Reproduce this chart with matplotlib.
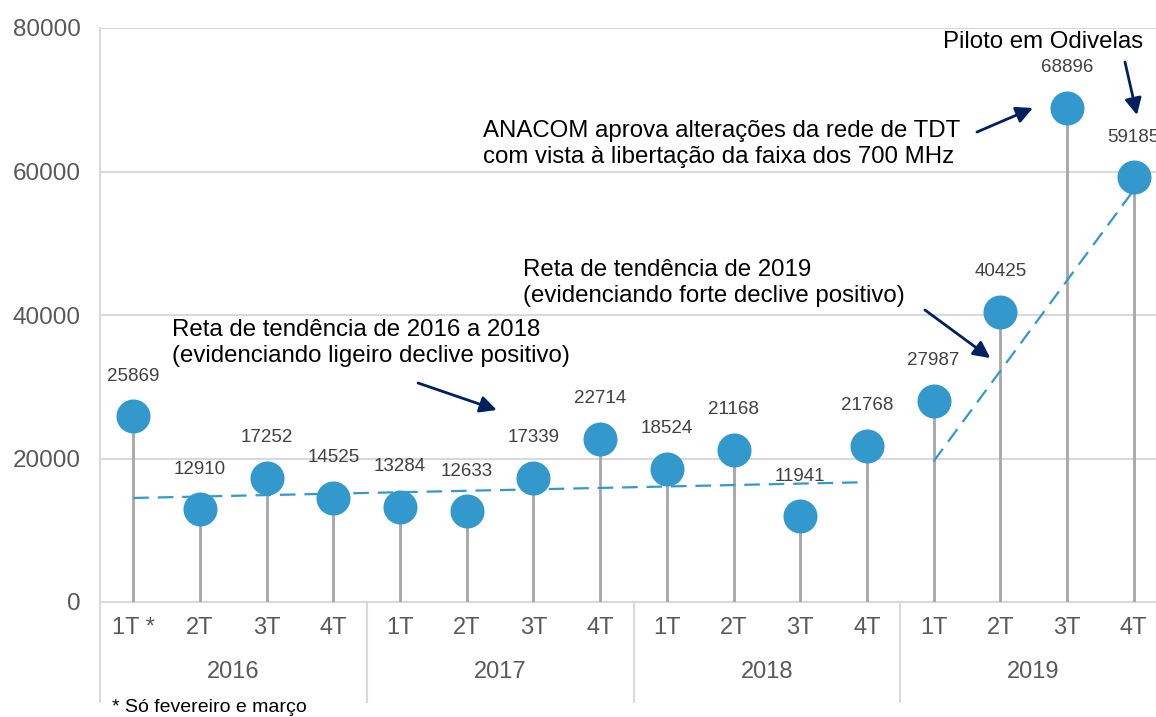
import matplotlib
matplotlib.use("Agg")
import matplotlib.pyplot as plt
import matplotlib.transforms as mtransforms
import numpy as np

plt.rcParams['font.family'] = ['Liberation Sans', 'DejaVu Sans']

quarters = ["1T *", "2T", "3T", "4T", "1T", "2T", "3T", "4T",
            "1T", "2T", "3T", "4T", "1T", "2T", "3T", "4T"]
years = ["2016", "2017", "2018", "2019"]
values = [25869, 12910, 17252, 14525, 13284, 12633, 17339, 22714,
          18524, 21168, 11941, 21768, 27987, 40425, 68896, 59185]

# trend lines (start/end index, start/end value)
trend_2016_2018 = ([0, 11], [14500, 16700])
trend_2019 = ([12, 15], [19600, 57400])

BLUE = "#3399CC"
STEM = "#A6A6A6"
GRID = "#D9D9D9"
NAVY = "#002060"

fig = plt.figure(figsize=(11.56, 7.17), dpi=100)
ax = fig.add_axes([100 / 1156, 115 / 717, 1067 / 1156, 574 / 717])

x = np.arange(len(values)) + 0.5
ax.set_xlim(0, len(values))
ax.set_ylim(0, 80000)

# grid and spines
ax.set_yticks(np.arange(0, 80001, 20000))
ax.yaxis.grid(True, color=GRID, lw=1.5)
ax.set_axisbelow(True)
for s in ["top", "right", "bottom"]:
    ax.spines[s].set_visible(False)
ax.spines["left"].set_color(GRID)
ax.spines["left"].set_linewidth(1.5)
ax.tick_params(axis="y", length=0, pad=14, labelsize=17.5, labelcolor="#595959")
ax.set_xticks([])

# stems and markers
ax.vlines(x, 0, values, color=STEM, lw=2, zorder=2)
dash = (0, (7, 4))
tx = np.array(trend_2016_2018[0]) + 0.5
ax.plot(tx, trend_2016_2018[1], ls=dash, color=BLUE, lw=1.6, zorder=3)
tx = np.array(trend_2019[0]) + 0.5
ax.plot(tx, trend_2019[1], ls=dash, color=BLUE, lw=1.6, zorder=3)
ax.plot(x, values, "o", ms=24.5, color=BLUE, mec="none", zorder=4)

for xi, v in zip(x, values):
    ax.annotate(str(v), (xi, v), xytext=(0, 29), textcoords="offset points",
                ha="center", va="center", fontsize=13.5, color="#404040",
                zorder=5, annotation_clip=False)

# category axis
trans = mtransforms.blended_transform_factory(ax.transData, ax.transAxes)
ax.plot([0, len(values)], [0, 0], transform=trans, color=GRID, lw=1.5,
        clip_on=False, zorder=1)
for b in range(0, len(values) + 1, 4):
    ax.plot([b, b], [0, -100 / 574], transform=trans, color=GRID, lw=1.5,
            clip_on=False)
for xi, q in zip(x, quarters):
    ax.text(xi, -26 / 574, q, transform=trans, ha="center", va="center",
            fontsize=17, color="#595959")
for i, yr in enumerate(years):
    ax.text(4 * i + 2, -70 / 574, yr, transform=trans, ha="center",
            va="center", fontsize=17, color="#595959")

# annotations
txt_kw = dict(fontsize=17.3, color="black", ha="left", va="center",
              linespacing=1.2, zorder=6)
arrow_kw = dict(arrowstyle="-|>", color=NAVY, lw=2, mutation_scale=25,
                shrinkA=0, shrinkB=0)
ax.text(1.08, 36100, "Reta de tendência de 2016 a 2018\n(evidenciando ligeiro declive positivo)", **txt_kw)
ax.annotate("", xy=(5.95, 26760), xytext=(4.77, 30520), arrowprops=arrow_kw)
ax.text(6.34, 44460, "Reta de tendência de 2019\n(evidenciando forte declive positivo)", **txt_kw)
ax.annotate("", xy=(13.35, 34000), xytext=(12.37, 40700), arrowprops=arrow_kw)
ax.text(5.74, 63830, "ANACOM aprova alterações da rede de TDT\ncom vista à libertação da faixa dos 700 MHz", **txt_kw)
ax.annotate("", xy=(13.99, 68850), xytext=(13.15, 65500), arrowprops=arrow_kw)
ax.text(12.64, 78050, "Piloto em Odivelas", **txt_kw)
ax.annotate("", xy=(15.55, 67870), xytext=(15.37, 75260), arrowprops=arrow_kw,
            annotation_clip=False)

fig.text(112 / 1156, 1 - 707 / 717, "* Só fevereiro e março", fontsize=14,
         color="black", ha="left", va="center")

fig.savefig("out.png", dpi=100)
